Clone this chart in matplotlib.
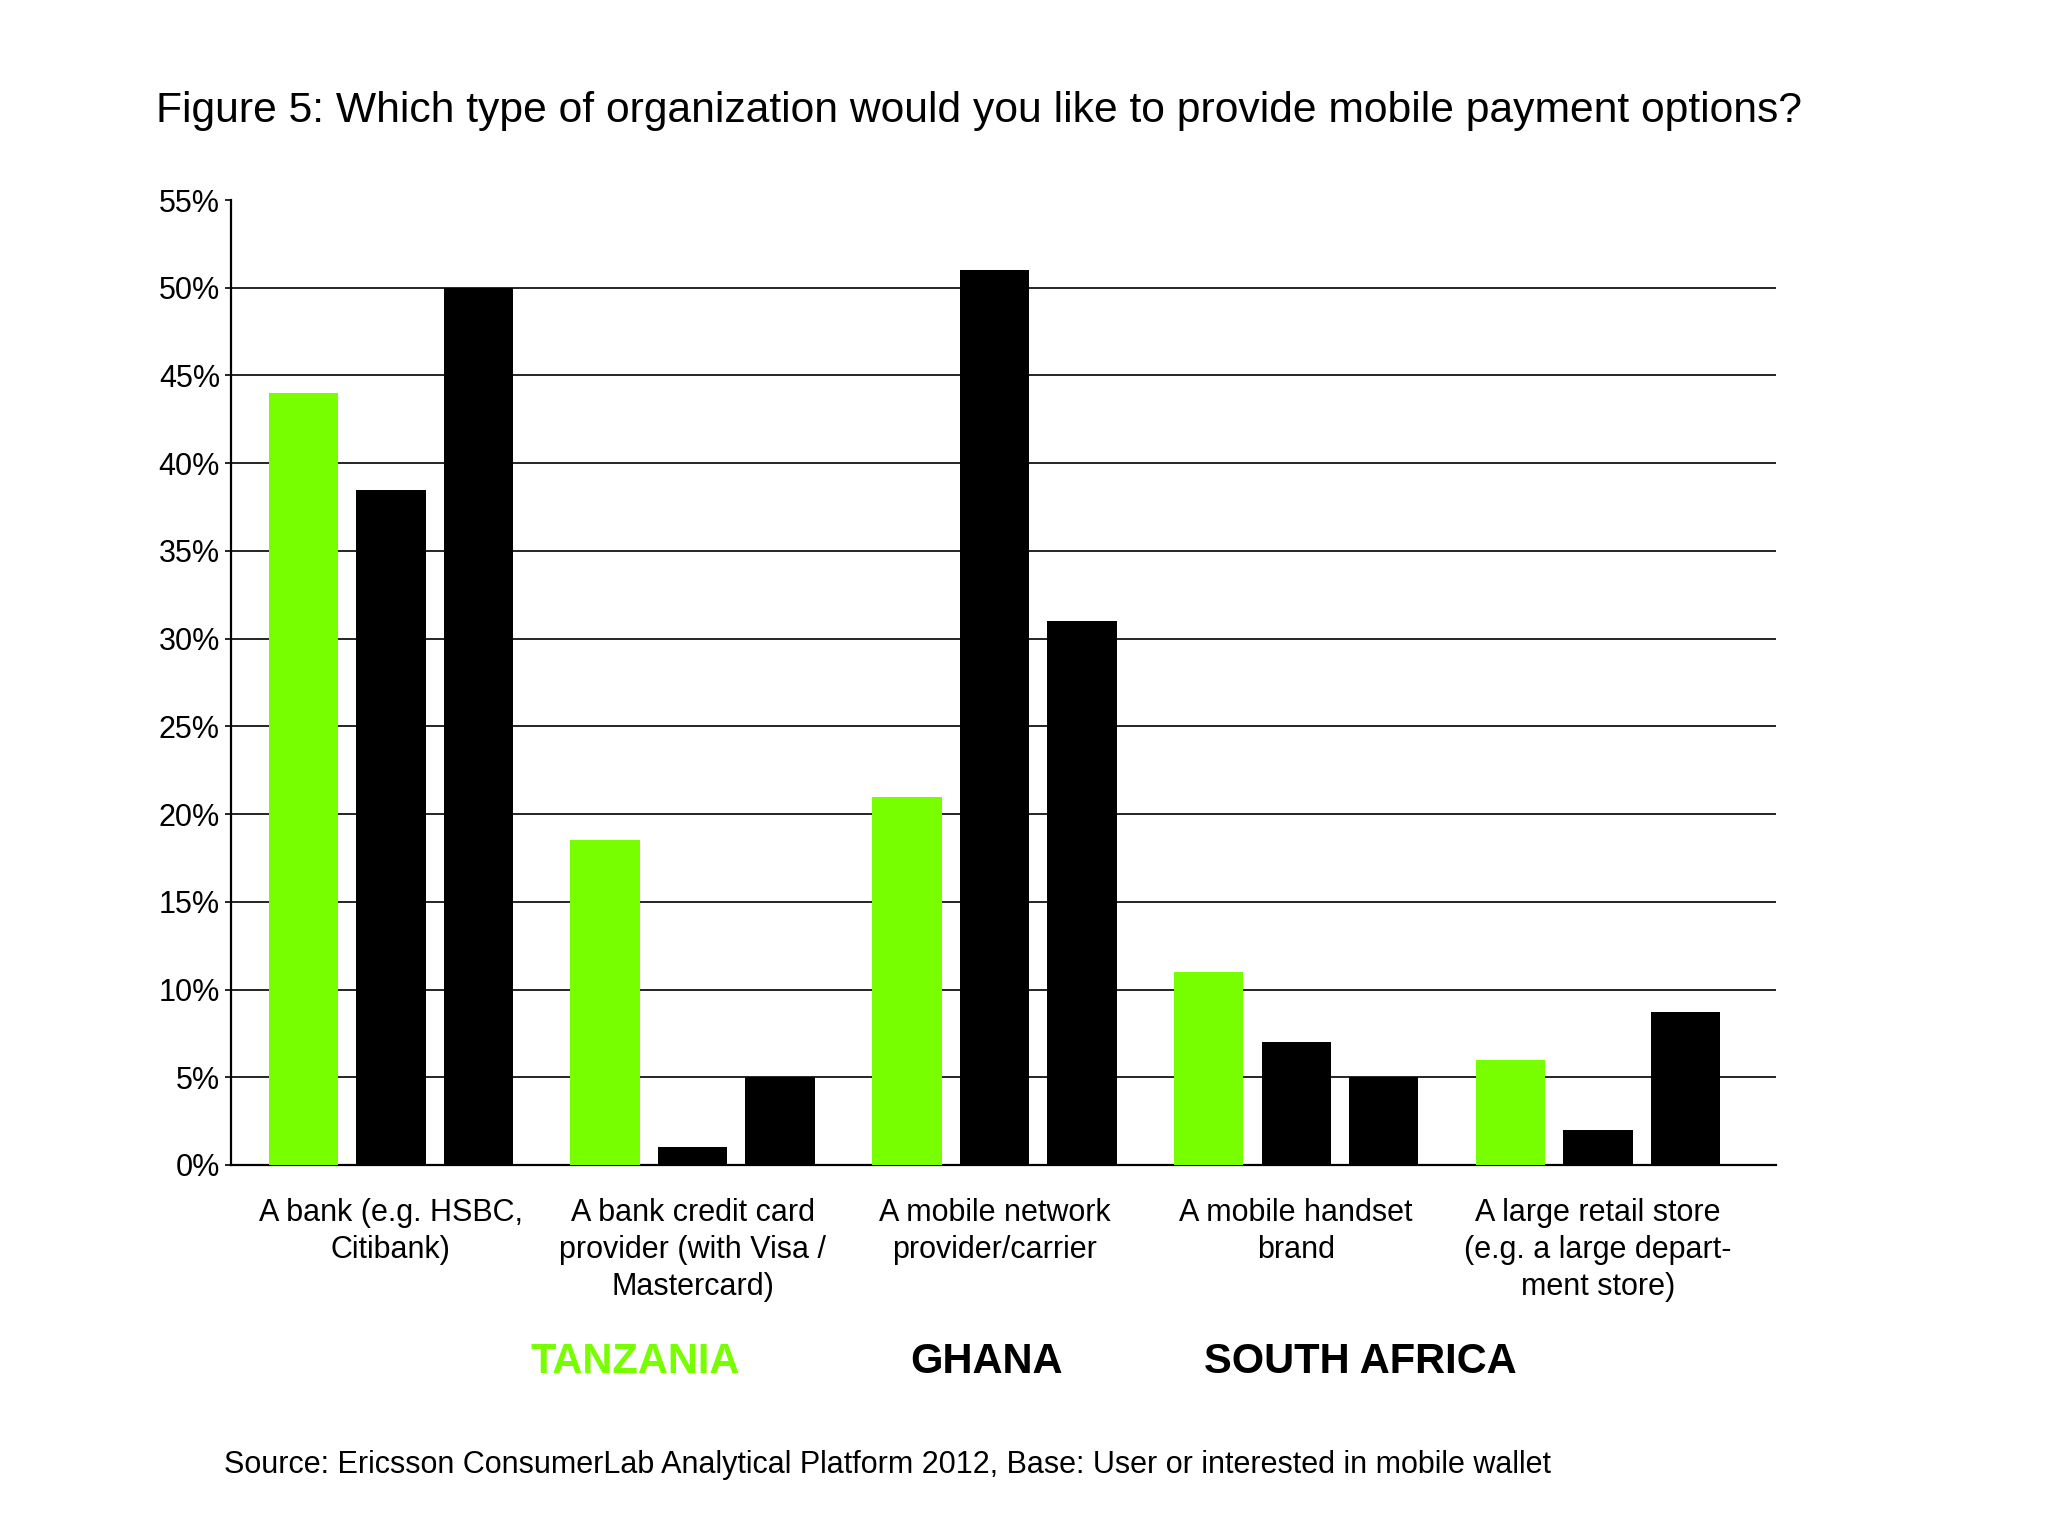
import numpy as np
import matplotlib
matplotlib.use("Agg")
import matplotlib.pyplot as plt

plt.rcParams["font.family"] = ["Liberation Sans", "DejaVu Sans"]

# ── data ──────────────────────────────────────────────────────────────────────
categories = [
    "A bank (e.g. HSBC,\nCitibank)",
    "A bank credit card\nprovider (with Visa /\nMastercard)",
    "A mobile network\nprovider/carrier",
    "A mobile handset\nbrand",
    "A large retail store\n(e.g. a large depart-\nment store)",
]
countries = ["TANZANIA", "GHANA", "SOUTH AFRICA"]
tanzania = [44.0, 18.5, 21.0, 11.0, 6.0]
ghana = [38.5, 1.0, 51.0, 7.0, 2.0]
south_africa = [50.0, 5.0, 31.0, 5.0, 8.7]
y_ticks = [0, 5, 10, 15, 20, 25, 30, 35, 40, 45, 50, 55]

GREEN = "#77FF00"
BLACK = "#000000"
colors = [GREEN, BLACK, BLACK]

fig = plt.figure(figsize=(20.48, 15.37), dpi=100)
ax = fig.add_axes([231 / 2048, 1 - 1165 / 1537, (1776 - 231) / 2048, (1165 - 200) / 1537])

# ── bars ──────────────────────────────────────────────────────────────────────
x = np.arange(len(categories))
width = 0.23
step = 0.29
for i, (vals, col) in enumerate(zip([tanzania, ghana, south_africa], colors)):
    ax.bar(x + (i - 1) * step, vals, width=width, color=col, zorder=3, linewidth=0)

ax.set_xlim(-0.53, 4.59)
ax.set_ylim(0, 55)
ax.set_yticks(y_ticks)
ax.set_yticklabels([f"{t}%" for t in y_ticks], fontsize=22)
ax.yaxis.grid(True, color="black", linewidth=1.2, zorder=1)
# no line at 0 (spine) or at the top tick
ax.yaxis.get_gridlines()[0].set_visible(False)
ax.yaxis.get_gridlines()[-1].set_visible(False)
ax.set_axisbelow(True)

ax.set_xticks(x)
ax.set_xticklabels(categories, fontsize=22, linespacing=1.3)
ax.tick_params(axis="x", length=0, pad=24)
ax.tick_params(axis="y", length=4, width=1.2, pad=4)

for s in ["top", "right"]:
    ax.spines[s].set_visible(False)
ax.spines["left"].set_linewidth(1.6)
ax.spines["bottom"].set_linewidth(1.6)

# ── texts ─────────────────────────────────────────────────────────────────────
fig.text(156 / 2048, 1 - 122 / 1537,
         "Figure 5: Which type of organization would you like to provide mobile payment options?",
         fontsize=30.7, va="baseline", ha="left")

legend_x = [635, 986, 1360]
for name, col, lx in zip(countries, colors, legend_x):
    fig.text(lx / 2048, 1 - 1362 / 1537, name, color=col, fontsize=30,
             fontweight="bold", ha="center", va="center")

fig.text(224 / 2048, 1 - 1465 / 1537,
         "Source: Ericsson ConsumerLab Analytical Platform 2012, Base: User or interested in mobile wallet",
         fontsize=22, ha="left", va="center")

fig.savefig("out.png", dpi=100, facecolor="white")
